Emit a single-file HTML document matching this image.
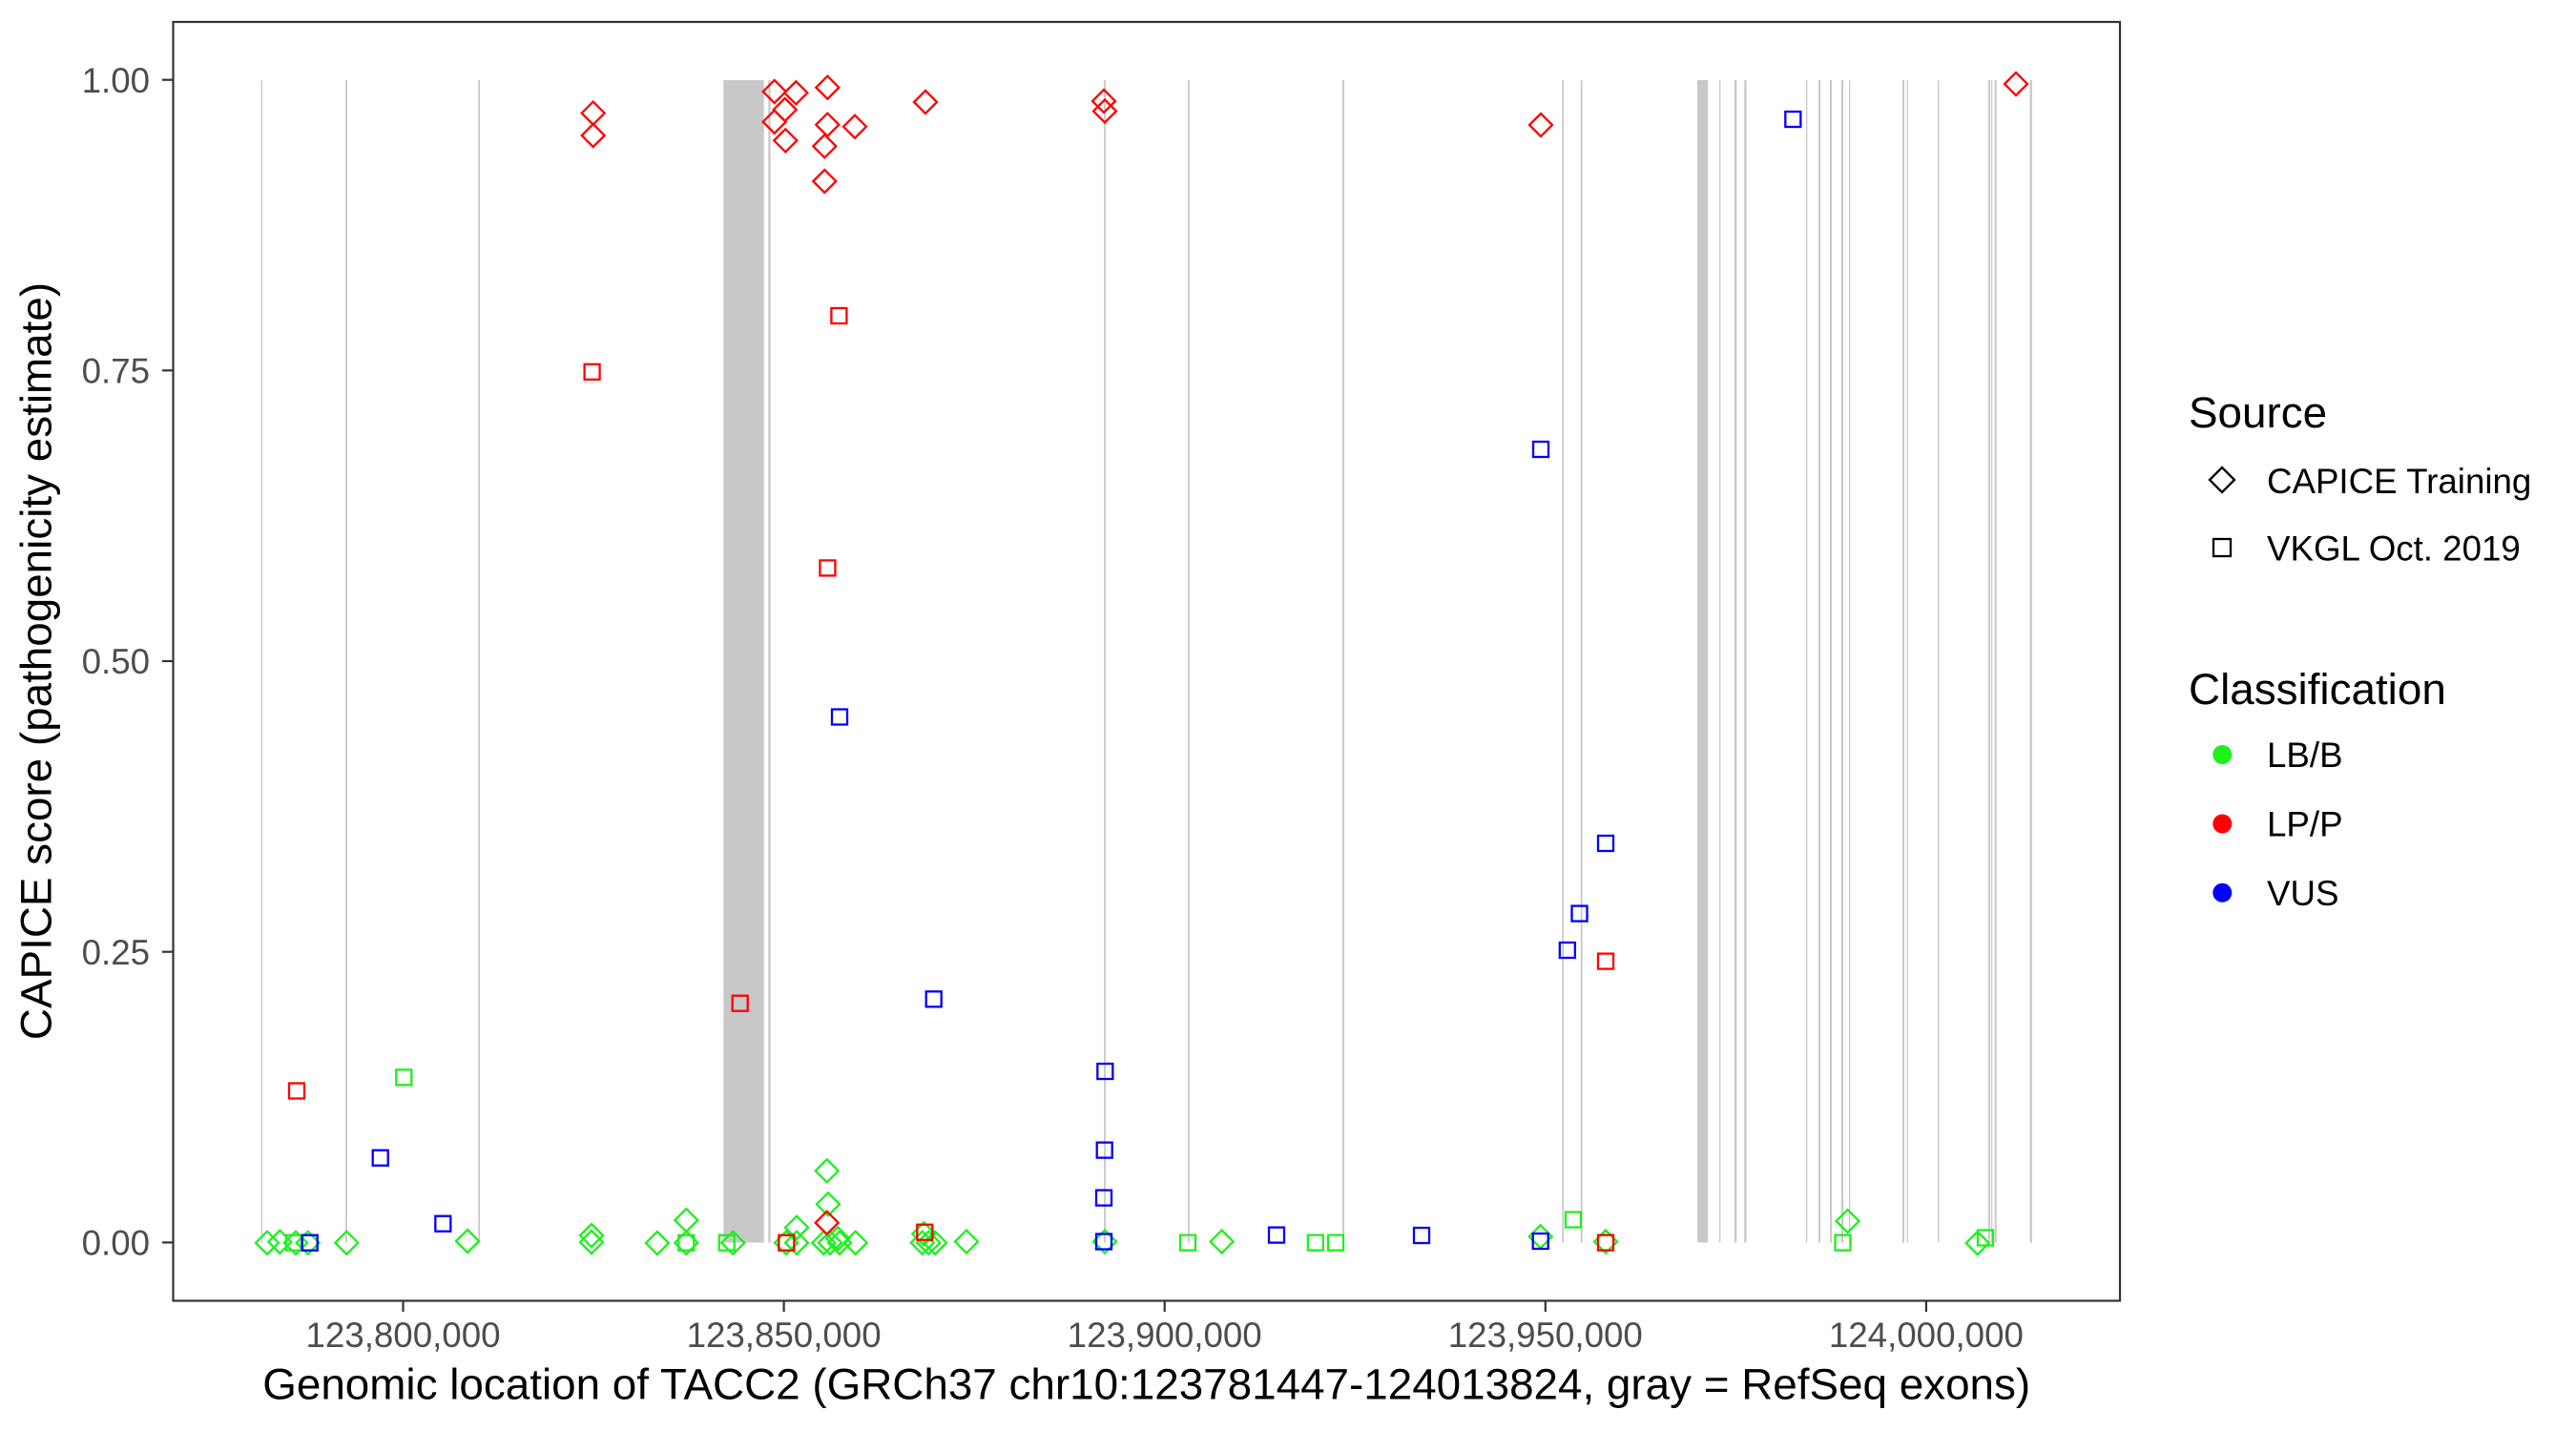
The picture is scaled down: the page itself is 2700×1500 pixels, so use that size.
<!DOCTYPE html>
<html>
<head>
<meta charset="utf-8">
<style>
  html, body { margin: 0; padding: 0; background: #ffffff; }
  svg { display: block; }
  text { font-family: "Liberation Sans", Arial, sans-serif; }
</style>
</head>
<body>
<svg width="2700" height="1500" viewBox="0 0 2700 1500" xmlns="http://www.w3.org/2000/svg">
  <rect x="0" y="0" width="2700" height="1500" fill="#ffffff"/>

  <!-- Exon lines -->
  <g fill="#c8c8c8" stroke="none">
    <rect x="273.7" y="84" width="1.3" height="1218.5"/>
    <rect x="362.1" y="84" width="1.8" height="1218.5"/>
    <rect x="501.3" y="84" width="1.8" height="1218.5"/>
    <rect x="758.3" y="84" width="42.4" height="1218.5"/>
    <rect x="805.3" y="84" width="2.3" height="1218.5"/>
    <rect x="1157.1" y="84" width="1.8" height="1218.5"/>
    <rect x="1245.1" y="84" width="1.8" height="1218.5"/>
    <rect x="1407.1" y="84" width="1.8" height="1218.5"/>
    <rect x="1637.3" y="84" width="1.8" height="1218.5"/>
    <rect x="1656.8" y="84" width="1.8" height="1218.5"/>
    <rect x="1779" y="84" width="11" height="1218.5"/>
    <rect x="1802" y="84" width="1.3" height="1218.5"/>
    <rect x="1817.9" y="84" width="2.3" height="1218.5"/>
    <rect x="1828.2" y="84" width="2.3" height="1218.5"/>
    <rect x="1893" y="84" width="1.3" height="1218.5"/>
    <rect x="1906" y="84" width="2" height="1218.5"/>
    <rect x="1918" y="84" width="2" height="1218.5"/>
    <rect x="1930" y="84" width="2" height="1218.5"/>
    <rect x="1938" y="84" width="1.3" height="1218.5"/>
    <rect x="1994" y="84" width="2" height="1218.5"/>
    <rect x="1998.6" y="84" width="1.3" height="1218.5"/>
    <rect x="2031" y="84" width="1.3" height="1218.5"/>
    <rect x="2084" y="84" width="2" height="1218.5"/>
    <rect x="2087" y="84" width="1.3" height="1218.5"/>
    <rect x="2090.7" y="84" width="2" height="1218.5"/>
    <rect x="2127.6" y="84" width="2.3" height="1218.5"/>
  </g>

  <defs>
    <polygon id="dia" points="0,-12 12,0 0,12 -12,0" fill="none" stroke-width="2.3"/>
    <rect id="sq" x="-8" y="-8" width="16" height="16" fill="none" stroke-width="2.3"/>
  </defs>

  <!-- Green points (LB/B) -->
  <g stroke="#1ef01e" fill="none" stroke-width="2.3">
    <!-- diamonds -->
    <polygon points="280,1290.7 292,1302.7 280,1314.7 268,1302.7"/>
    <polygon points="293.3,1289.7 305.3,1301.7 293.3,1313.7 281.3,1301.7"/>
    <polygon points="310,1290.7 322,1302.7 310,1314.7 298,1302.7"/>
    <polygon points="322.7,1290.7 334.7,1302.7 322.7,1314.7 310.7,1302.7"/>
    <polygon points="363.3,1290.7 375.3,1302.7 363.3,1314.7 351.3,1302.7"/>
    <polygon points="490,1289 502,1301 490,1313 478,1301"/>
    <polygon points="620,1283 632,1295 620,1307 608,1295"/>
    <polygon points="620,1290 632,1302 620,1314 608,1302"/>
    <polygon points="688.9,1291 700.9,1303 688.9,1315 676.9,1303"/>
    <polygon points="719.3,1267 731.3,1279 719.3,1291 707.3,1279"/>
    <polygon points="719.3,1290.7 731.3,1302.7 719.3,1314.7 707.3,1302.7"/>
    <polygon points="768.3,1290.7 780.3,1302.7 768.3,1314.7 756.3,1302.7"/>
    <polygon points="824,1290.7 836,1302.7 824,1314.7 812,1302.7"/>
    <polygon points="835,1274.7 847,1286.7 835,1298.7 823,1286.7"/>
    <polygon points="835,1290.7 847,1302.7 835,1314.7 823,1302.7"/>
    <polygon points="866.7,1215.3 878.7,1227.3 866.7,1239.3 854.7,1227.3"/>
    <polygon points="868,1250.3 880,1262.3 868,1274.3 856,1262.3"/>
    <polygon points="863.3,1290.7 875.3,1302.7 863.3,1314.7 851.3,1302.7"/>
    <polygon points="870,1290.7 882,1302.7 870,1314.7 858,1302.7"/>
    <polygon points="878.3,1286.3 890.3,1298.3 878.3,1310.3 866.3,1298.3"/>
    <polygon points="880,1290.7 892,1302.7 880,1314.7 868,1302.7"/>
    <polygon points="896.7,1290.7 908.7,1302.7 896.7,1314.7 884.7,1302.7"/>
    <polygon points="968.3,1281.3 980.3,1293.3 968.3,1305.3 956.3,1293.3"/>
    <polygon points="966.7,1290.7 978.7,1302.7 966.7,1314.7 954.7,1302.7"/>
    <polygon points="973.3,1290.7 985.3,1302.7 973.3,1314.7 961.3,1302.7"/>
    <polygon points="980,1290.7 992,1302.7 980,1314.7 968,1302.7"/>
    <polygon points="1013,1289.5 1025,1301.5 1013,1313.5 1001,1301.5"/>
    <polygon points="1158,1289.5 1170,1301.5 1158,1313.5 1146,1301.5"/>
    <polygon points="1280.6,1289.5 1292.6,1301.5 1280.6,1313.5 1268.6,1301.5"/>
    <polygon points="1614.7,1284.3 1626.7,1296.3 1614.7,1308.3 1602.7,1296.3"/>
    <polygon points="1683,1289.5 1695,1301.5 1683,1313.5 1671,1301.5"/>
    <polygon points="1936.6,1268 1948.6,1280 1936.6,1292 1924.6,1280"/>
    <polygon points="2072.7,1291 2084.7,1303 2072.7,1315 2060.7,1303"/>
    <!-- squares -->
    <rect x="415.3" y="1121.3" width="16" height="16"/>
    <rect x="300" y="1294.7" width="16" height="16"/>
    <rect x="711.3" y="1294.7" width="16" height="16"/>
    <rect x="753.7" y="1294.7" width="16" height="16"/>
    <rect x="1237" y="1294.6" width="16" height="16"/>
    <rect x="1370.8" y="1294.6" width="16" height="16"/>
    <rect x="1392" y="1294.6" width="16" height="16"/>
    <rect x="1641" y="1270.5" width="16" height="16"/>
    <rect x="1923.5" y="1294.6" width="16" height="16"/>
    <rect x="2073" y="1289.5" width="16" height="16"/>
  </g>

  <!-- Red points (LP/P) -->
  <g stroke="#ff0000" fill="none" stroke-width="2.3">
    <polygon points="621.7,106.6 633.7,118.6 621.7,130.6 609.7,118.6"/>
    <polygon points="621.7,130 633.7,142 621.7,154 609.7,142"/>
    <polygon points="811.7,84 823.7,96 811.7,108 799.7,96"/>
    <polygon points="834.3,85.3 846.3,97.3 834.3,109.3 822.3,97.3"/>
    <polygon points="867.3,79.7 879.3,91.7 867.3,103.7 855.3,91.7"/>
    <polygon points="822.7,103 834.7,115 822.7,127 810.7,115"/>
    <polygon points="811.7,115.7 823.7,127.7 811.7,139.7 799.7,127.7"/>
    <polygon points="867.3,118.7 879.3,130.7 867.3,142.7 855.3,130.7"/>
    <polygon points="896,120.7 908,132.7 896,144.7 884,132.7"/>
    <polygon points="823.3,135.3 835.3,147.3 823.3,159.3 811.3,147.3"/>
    <polygon points="864.3,141.3 876.3,153.3 864.3,165.3 852.3,153.3"/>
    <polygon points="864.3,178 876.3,190 864.3,202 852.3,190"/>
    <polygon points="970,95 982,107 970,119 958,107"/>
    <polygon points="1157,94 1169,106 1157,118 1145,106"/>
    <polygon points="1158,104.5 1170,116.5 1158,128.5 1146,116.5"/>
    <polygon points="1615,119 1627,131 1615,143 1603,131"/>
    <polygon points="2113,76 2125,88 2113,100 2101,88"/>
    <polygon points="866.7,1269.7 878.7,1281.7 866.7,1293.7 854.7,1281.7"/>
    <rect x="303" y="1135.5" width="16" height="16"/>
    <rect x="612.6" y="381.8" width="16" height="16"/>
    <rect x="871.4" y="323" width="16" height="16"/>
    <rect x="859.4" y="587.4" width="16" height="16"/>
    <rect x="767.7" y="1043.7" width="16" height="16"/>
    <rect x="816.3" y="1294.7" width="16" height="16"/>
    <rect x="961.3" y="1283.7" width="16" height="16"/>
    <rect x="1675" y="999.6" width="16" height="16"/>
    <rect x="1675" y="1294.6" width="16" height="16"/>
  </g>

  <!-- Blue points (VUS) -->
  <g stroke="#0000ff" fill="none" stroke-width="2.3">
    <rect x="316.7" y="1294.7" width="16" height="16"/>
    <rect x="390.7" y="1205.7" width="16" height="16"/>
    <rect x="456.3" y="1274.7" width="16" height="16"/>
    <rect x="872" y="743.5" width="16" height="16"/>
    <rect x="970.7" y="1039.3" width="16" height="16"/>
    <rect x="1150.3" y="1115" width="16" height="16"/>
    <rect x="1149.7" y="1197.6" width="16" height="16"/>
    <rect x="1149" y="1247.6" width="16" height="16"/>
    <rect x="1149" y="1293.5" width="16" height="16"/>
    <rect x="1330" y="1286.6" width="16" height="16"/>
    <rect x="1482" y="1287" width="16" height="16"/>
    <rect x="1606.7" y="1293" width="16" height="16"/>
    <rect x="1607" y="463" width="16" height="16"/>
    <rect x="1675" y="876" width="16" height="16"/>
    <rect x="1647.5" y="949.6" width="16" height="16"/>
    <rect x="1634.8" y="988" width="16" height="16"/>
    <rect x="1871.3" y="117" width="16" height="16"/>
  </g>

  <!-- Panel border -->
  <rect x="181.5" y="23" width="2040.5" height="1340.5" fill="none" stroke="#333333" stroke-width="2.2"/>

  <!-- Y axis ticks -->
  <g stroke="#333333" stroke-width="2.2">
    <line x1="170" y1="83.7" x2="181.5" y2="83.7"/>
    <line x1="170" y1="388.3" x2="181.5" y2="388.3"/>
    <line x1="170" y1="693" x2="181.5" y2="693"/>
    <line x1="170" y1="997.7" x2="181.5" y2="997.7"/>
    <line x1="170" y1="1302.4" x2="181.5" y2="1302.4"/>
  </g>
  <g fill="#4d4d4d" font-size="36.7" text-anchor="end">
    <text x="157" y="96.8">1.00</text>
    <text x="157" y="401.4">0.75</text>
    <text x="157" y="706.1">0.50</text>
    <text x="157" y="1010.8">0.25</text>
    <text x="157" y="1315.5">0.00</text>
  </g>

  <!-- X axis ticks -->
  <g stroke="#333333" stroke-width="2.2">
    <line x1="422.5" y1="1363.5" x2="422.5" y2="1375"/>
    <line x1="821.6" y1="1363.5" x2="821.6" y2="1375"/>
    <line x1="1220.7" y1="1363.5" x2="1220.7" y2="1375"/>
    <line x1="1619.8" y1="1363.5" x2="1619.8" y2="1375"/>
    <line x1="2018.9" y1="1363.5" x2="2018.9" y2="1375"/>
  </g>
  <g fill="#4d4d4d" font-size="36.7" text-anchor="middle">
    <text x="422.5" y="1412">123,800,000</text>
    <text x="821.6" y="1412">123,850,000</text>
    <text x="1220.7" y="1412">123,900,000</text>
    <text x="1619.8" y="1412">123,950,000</text>
    <text x="2018.9" y="1412">124,000,000</text>
  </g>

  <!-- Axis titles -->
  <text x="1201.7" y="1466.5" font-size="45.8" fill="#000000" text-anchor="middle">Genomic location of TACC2 (GRCh37 chr10:123781447-124013824, gray = RefSeq exons)</text>
  <text x="53.5" y="693" font-size="45.8" fill="#000000" text-anchor="middle" transform="rotate(-90 53.5 693)">CAPICE score (pathogenicity estimate)</text>

  <!-- Legend: Source -->
  <text x="2294" y="448" font-size="45.8" fill="#000000">Source</text>
  <polygon points="2329,490 2342,503 2329,516 2316,503" fill="none" stroke="#000000" stroke-width="2.3"/>
  <rect x="2320" y="565" width="18" height="18" fill="none" stroke="#000000" stroke-width="2.3"/>
  <text x="2376" y="517" font-size="36.7" fill="#000000">CAPICE Training</text>
  <text x="2376" y="587.5" font-size="36.7" fill="#000000">VKGL Oct. 2019</text>

  <!-- Legend: Classification -->
  <text x="2294" y="738" font-size="45.8" fill="#000000">Classification</text>
  <circle cx="2329.3" cy="791" r="10" fill="#1ef01e"/>
  <circle cx="2329.3" cy="863.5" r="10" fill="#ff0000"/>
  <circle cx="2329.3" cy="935.8" r="10" fill="#0000ff"/>
  <text x="2376" y="804" font-size="36.7" fill="#000000">LB/B</text>
  <text x="2376" y="876.5" font-size="36.7" fill="#000000">LP/P</text>
  <text x="2376" y="949" font-size="36.7" fill="#000000">VUS</text>
</svg>
</body>
</html>
